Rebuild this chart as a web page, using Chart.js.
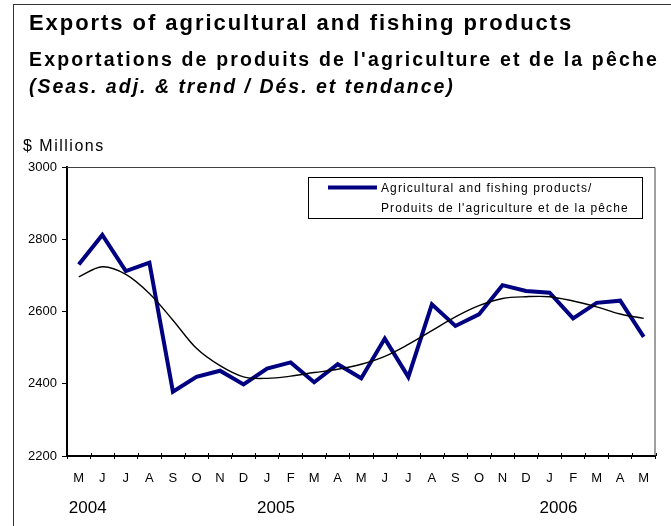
<!DOCTYPE html>
<html>
<head>
<meta charset="utf-8">
<script src="https://cdn.jsdelivr.net/npm/chart.js@4.4.1/dist/chart.umd.min.js"></script>
<style>
  html, body { margin:0; padding:0; background:#fff; }
  #wrap { position:relative; width:671px; height:526px; overflow:hidden; font-family:"Liberation Sans", Arial, sans-serif; }
  #frame { position:absolute; left:13px; top:4px; width:700px; height:600px; border-left:1.5px solid #333; border-top:1.5px solid #333; }
  .t { position:absolute; left:29px; white-space:nowrap; line-height:1; color:#000; }
  #t1 { top:12px; font-size:22px; font-weight:bold; letter-spacing:1.95px; }
  #t2 { top:50px; font-size:19.5px; font-weight:bold; letter-spacing:2.15px; }
  #t3 { top:76.5px; font-size:19.5px; font-weight:bold; font-style:italic; letter-spacing:2px; }
  #unit { position:absolute; left:23px; top:138px; font-size:16px; line-height:1; letter-spacing:1.5px; white-space:nowrap; }
  canvas { position:absolute; left:0; top:0; }
</style>
</head>
<body>
<div id="wrap">
  <div id="frame"></div>
  <canvas id="c" width="671" height="526"></canvas>
  <div class="t" id="t1">Exports of agricultural and fishing products</div>
  <div class="t" id="t2">Exportations de produits de l'agriculture et de la pêche</div>
  <div class="t" id="t3">(Seas. adj. &amp; trend / Dés. et tendance)</div>
  <div id="unit">$ Millions</div>
</div>
<script>
const months = ['M','J','J','A','S','O','N','D','J','F','M','A','M','J','J','A','S','O','N','D','J','F','M','A','M'];
const exportsValues = [2730,2812,2712,2735,2378,2419,2436,2398,2442,2459,2404,2454,2415,2525,2419,2620,2560,2592,2673,2657,2652,2581,2624,2630,2530];
const trendValues = [2696,2724,2703,2650,2576,2498,2450,2419,2415,2421,2431,2440,2454,2476,2509,2547,2585,2616,2636,2641,2641,2629,2613,2593,2581];
const yearLabels = ['2004','2005','2006'];
const yearIndex = [0,8,20];
const legendLines = ['Agricultural and fishing products/', "Produits de l'agriculture et de la pêche"];
const yTicks = [2200,2400,2600,2800,3000];

const FONT = '"Liberation Sans", Arial, sans-serif';

const extras = {
  id: 'extras',
  afterDraw(chart) {
    const ctx = chart.ctx;
    const a = chart.chartArea;
    const xs = chart.scales.x;
    ctx.save();
    // top & right border of plot area
    ctx.strokeStyle = '#404040';
    ctx.lineWidth = 1;
    ctx.beginPath();
    ctx.moveTo(a.left, a.top + 0.5);
    ctx.lineTo(a.right - 0.5, a.top + 0.5);
    ctx.lineTo(a.right - 0.5, a.bottom);
    ctx.stroke();
    // x tick marks upward part
    ctx.strokeStyle = '#000';
    const n = months.length;
    const step = (a.right - a.left) / n;
    ctx.beginPath();
    for (let i = 0; i <= n; i++) {
      const x = Math.round(a.left + i * step) + 0.5;
      ctx.moveTo(x, a.bottom - 3);
      ctx.lineTo(x, a.bottom);
    }
    ctx.stroke();
    // years
    ctx.fillStyle = '#000';
    ctx.font = '17px ' + FONT;
    ctx.textAlign = 'left';
    ctx.textBaseline = 'alphabetic';
    yearLabels.forEach((lab, k) => {
      ctx.fillText(lab, xs.getPixelForValue(yearIndex[k]) - 10, 513);
    });
    // legend
    const ds = chart.data.datasets[0];
    ctx.fillStyle = '#fff';
    ctx.fillRect(308, 177, 334, 41);
    ctx.strokeStyle = '#000';
    ctx.lineWidth = 1;
    ctx.strokeRect(308.5, 177.5, 334, 41);
    ctx.strokeStyle = ds.borderColor;
    ctx.lineWidth = ds.borderWidth;
    ctx.beginPath();
    ctx.moveTo(328, 187.5);
    ctx.lineTo(377, 187.5);
    ctx.stroke();
    ctx.fillStyle = '#000';
    ctx.font = '12px ' + FONT;
    try { ctx.letterSpacing = '1.1px'; } catch (e) {}
    ctx.fillText(legendLines[0], 381, 191.5);
    ctx.fillText(legendLines[1], 381, 212);
    try { ctx.letterSpacing = '0px'; } catch (e) {}
    ctx.restore();
  }
};

new Chart(document.getElementById('c'), {
  type: 'line',
  data: {
    labels: months,
    datasets: [
      { label: legendLines.join(' '), data: exportsValues, borderColor: '#000080', borderWidth: 4, pointRadius: 0, tension: 0, order: 1, borderJoinStyle: 'miter' },
      { label: 'Trend', data: trendValues, borderColor: '#000000', borderWidth: 1.4, pointRadius: 0, tension: 0.35, order: 0 }
    ]
  },
  options: {
    responsive: false,
    animation: false,
    devicePixelRatio: 1,
    layout: { padding: { top: 167, right: 15.5, left: 0, bottom: 0 } },
    plugins: { legend: { display: false }, tooltip: { enabled: false }, title: { display: false } },
    scales: {
      x: {
        type: 'category',
        offset: true,
        grid: { offset: true, drawOnChartArea: false, tickLength: 3, color: '#000', lineWidth: 1 },
        border: { display: true, color: '#000', width: 2 },
        ticks: { font: { family: FONT, size: 13 }, color: '#000', padding: 12, maxRotation: 0, autoSkip: false },
        afterFit: (s) => { s.height = 70; }
      },
      y: {
        min: 2200, max: 3000,
        afterBuildTicks: (s) => { s.ticks = yTicks.map(v => ({ value: v })); },
        grid: { drawOnChartArea: false, tickLength: 5, color: '#000', lineWidth: 1 },
        border: { display: true, color: '#000', width: 2 },
        ticks: { font: { family: FONT, size: 13 }, color: '#000', padding: 5, callback: (v) => String(v) },
        afterFit: (s) => { s.width = 67; }
      }
    }
  },
  plugins: [extras]
});
</script>
</body>
</html>
